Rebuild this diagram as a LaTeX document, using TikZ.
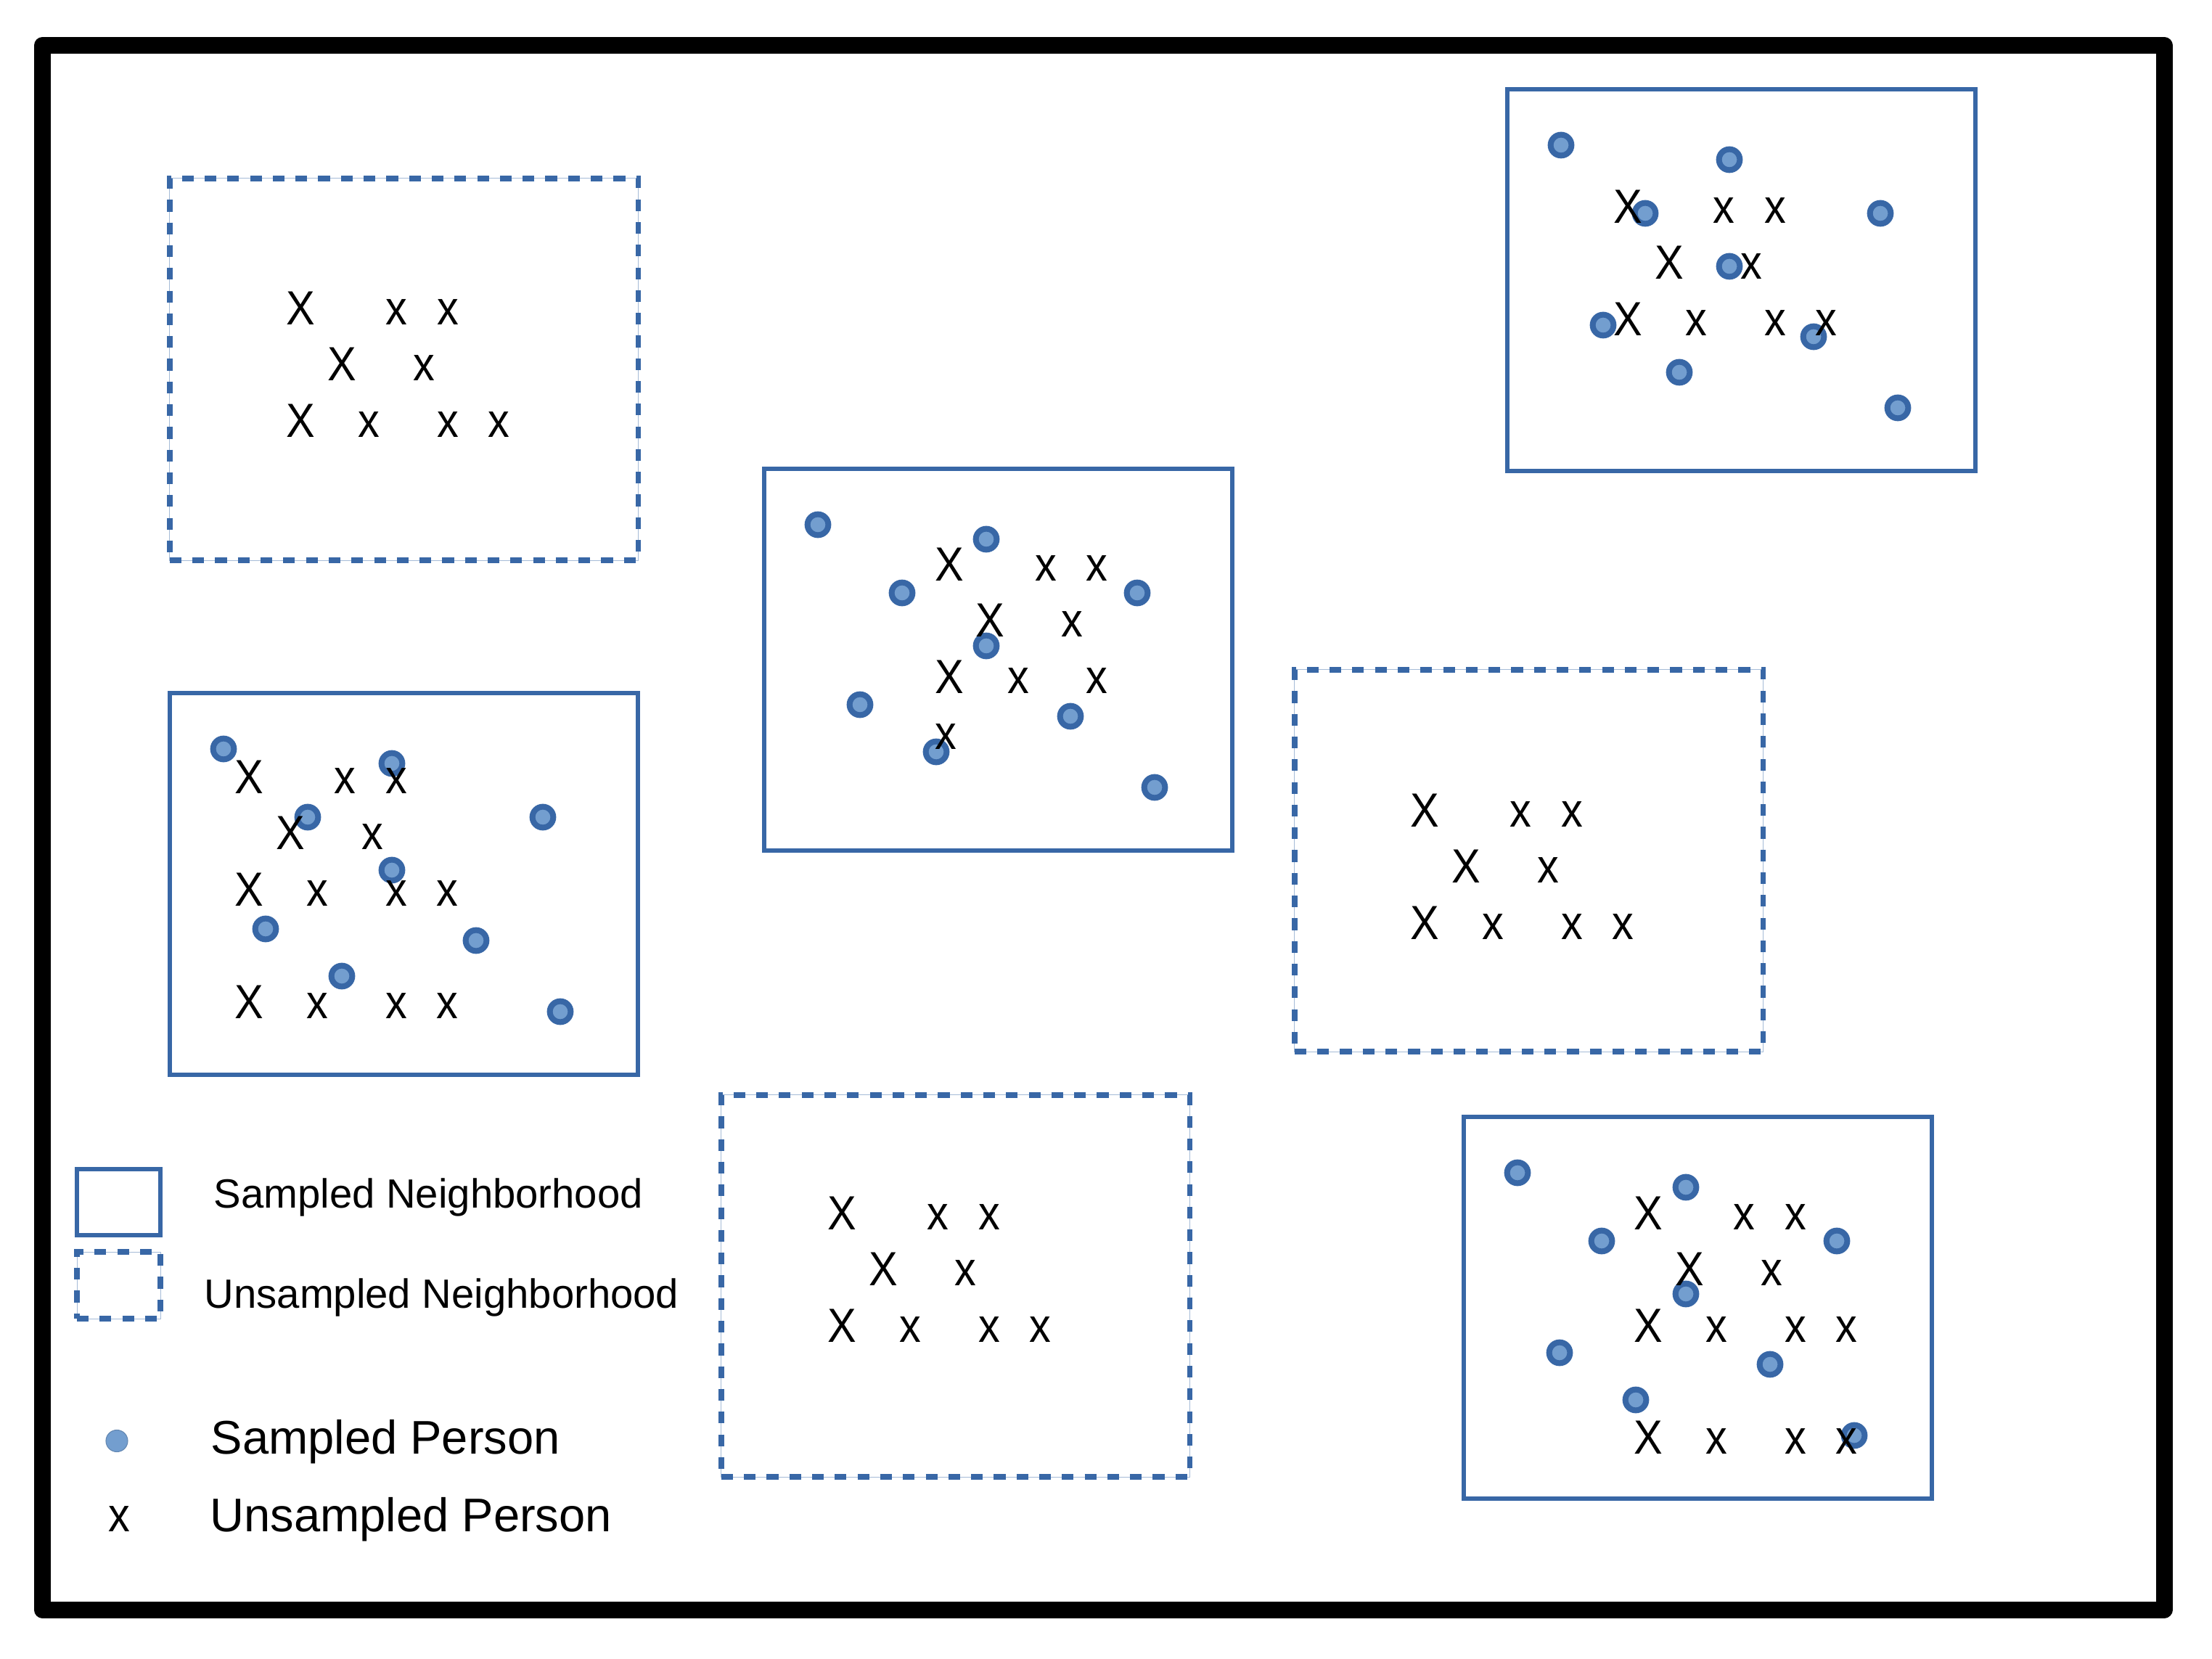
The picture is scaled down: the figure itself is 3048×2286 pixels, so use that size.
\documentclass[tikz,border=0pt]{standalone}
\usepackage{fontspec}
\setmainfont{Liberation Sans}
\newfontfamily\crossfont[FakeStretch=0.9]{Liberation Sans}

\definecolor{hoodblue}{RGB}{56,103,166}
\definecolor{personblue}{RGB}{115,158,207}

\tikzset{
    hood/.style={draw=hoodblue, line width=1.85pt, minimum width=6.45cm,
        minimum height=5.26cm, inner sep=0pt},
    unsampled/.style={hood, line width=2.1pt, dash pattern=on 4.6pt off 4.3pt,
        preaction={draw=hoodblue!45, line width=0.2pt, solid}},
    person/.style={circle, draw=hoodblue, fill=personblue, line width=2.28pt,
        minimum size=0.287cm, inner sep=0pt},
    cross/.style={font=\crossfont\fontsize{18.8pt}{18.8pt}\selectfont,
        inner sep=0pt, anchor=base},
    keytext/.style={inner sep=0pt, anchor=base west}
}

% where the sampled persons sit, from the top left corner of a neighborhood
\newcommand{\sampledpeople}{74/77, 306/97, 190/171, 514/171, 306/244,
    132/325, 422/341, 237/390, 538/439}
% unsampled persons, from the first big X
\newcommand{\threerows}{0/0/X, 132/0/x, 203/0/x, 57/77/X, 170/77/x,
    0/155/X, 94/155/x, 203/155/x, 273/155/x}
\newcommand{\fourrows}{0/0/X, 132/0/x, 203/0/x, 57/77/X, 170/77/x,
    0/155/X, 94/155/x, 203/155/x, 273/155/x,
    0/309/X, 94/309/x, 203/309/x, 273/309/x}
\newcommand{\oddrows}{0/0/X, 133/0/x, 203/0/x, 56/77/X, 169/77/x,
    0/155/X, 95/155/x, 203/155/x, -5/232/x}

\begin{document}
\begin{tikzpicture}[x=0.01cm, y=-0.01cm]
\useasboundingbox[fill=white] (0,0) rectangle (3048,2286);
\draw[line width=6.54pt, line join=round] (58.5,62.5) rectangle (2982,2218);

% unsampled neighborhoods
\node[unsampled] (hoodA) at (556.5,509) {};
\begin{scope}[shift={(414,448)}]
    \foreach \dx/\dy/\c [count=\i] in \threerows
        \node[cross] (A-x\i) at (\dx,\dy) {\c};
\end{scope}

\node[unsampled] (hoodE) at (2106.5,1186) {};
\begin{scope}[shift={(1963,1140)}]
    \foreach \dx/\dy/\c [count=\i] in \threerows
        \node[cross] (E-x\i) at (\dx,\dy) {\c};
\end{scope}

\node[unsampled] (hoodF) at (1316.5,1772) {};
\begin{scope}[shift={(1160,1694)}]
    \foreach \dx/\dy/\c [count=\i] in \threerows
        \node[cross] (F-x\i) at (\dx,\dy) {\c};
\end{scope}

% sampled neighborhoods
\node[hood] (hoodB) at (2399.5,386) {};
\begin{scope}[shift={(2077,123)}]
    \foreach \dx/\dy [count=\i] in \sampledpeople
        \node[person] (B-p\i) at (\dx,\dy) {};
\end{scope}
\begin{scope}[shift={(2243,308)}]
    \foreach \dx/\dy/\c [count=\i] in \threerows
        \node[cross] (B-x\i) at (\dx,\dy) {\c};
\end{scope}

\node[hood] (hoodC) at (556.5,1218) {};
\begin{scope}[shift={(234,955)}]
    \foreach \dx/\dy [count=\i] in \sampledpeople
        \node[person] (C-p\i) at (\dx,\dy) {};
\end{scope}
\begin{scope}[shift={(343,1094)}]
    \foreach \dx/\dy/\c [count=\i] in \fourrows
        \node[cross] (C-x\i) at (\dx,\dy) {\c};
\end{scope}

\node[hood] (hoodD) at (1375.5,909) {};
\begin{scope}[shift={(1053,646)}]
    \foreach \dx/\dy [count=\i] in \sampledpeople
        \node[person] (D-p\i) at (\dx,\dy) {};
\end{scope}
\begin{scope}[shift={(1308,801)}]
    \foreach \dx/\dy/\c [count=\i] in \oddrows
        \node[cross] (D-x\i) at (\dx,\dy) {\c};
\end{scope}

\node[hood] (hoodG) at (2339.5,1802) {};
\begin{scope}[shift={(2017,1539)}]
    \foreach \dx/\dy [count=\i] in \sampledpeople
        \node[person] (G-p\i) at (\dx,\dy) {};
\end{scope}
\begin{scope}[shift={(2271,1694)}]
    \foreach \dx/\dy/\c [count=\i] in \fourrows
        \node[cross] (G-x\i) at (\dx,\dy) {\c};
\end{scope}

% legend
\node[hood, minimum width=1.15cm, minimum height=0.91cm] (keysampled) at (163.5,1656.5) {};
\node[unsampled, minimum width=1.15cm, minimum height=0.92cm] (keyunsampled) at (163.5,1771) {};
\node[circle, fill=personblue, draw=personblue!85!black, line width=0.3pt,
    minimum size=0.3cm, inner sep=0pt] (keyperson) at (161,1985.5) {};
\node[cross] (keycross) at (164.5,2110) {x};
\node[keytext, font=\fontsize{16pt}{19pt}\selectfont] (keysampledtext) at (294,1664) {Sampled Neighborhood};
\node[keytext, font=\fontsize{16pt}{19pt}\selectfont] (keyunsampledtext) at (281,1802) {Unsampled Neighborhood};
\node[keytext, font=\fontsize{18.5pt}{22pt}\selectfont] (keypersontext) at (290,2003) {Sampled Person};
\node[keytext, font=\fontsize{18.5pt}{22pt}\selectfont] (keycrosstext) at (289,2110) {Unsampled Person};
\end{tikzpicture}
\end{document}
